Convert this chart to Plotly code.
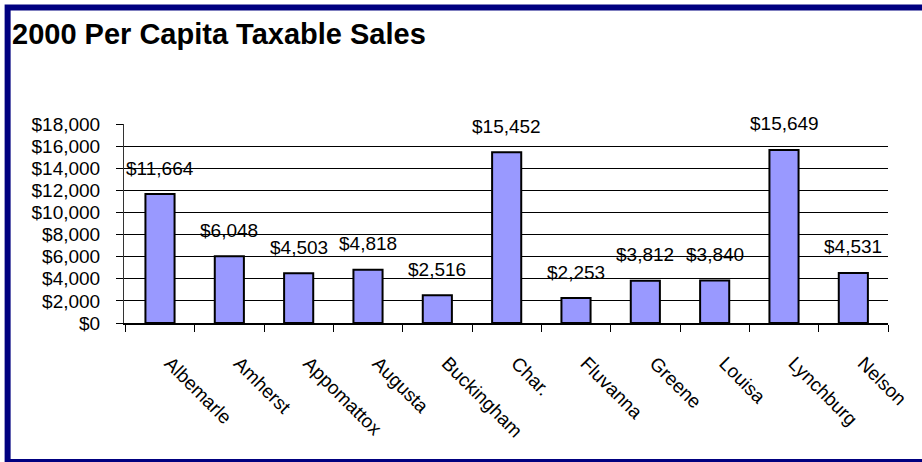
import plotly.graph_objects as go

# 2000 per-capita taxable sales by locality
localities = ["Albemarle", "Amherst", "Appomattox", "Augusta", "Buckingham",
              "Char.", "Fluvanna", "Greene", "Louisa", "Lynchburg", "Nelson"]
sales = [11664, 6048, 4503, 4818, 2516, 15452, 2253, 3812, 3840, 15649, 4531]

W, H = 922, 462
ML, MR, MT, MB = 124, 30, 124, 139
PW, PH = W - ML - MR, H - MT - MB
FONT = "Liberation Sans, Arial, sans-serif"
TXT = 19


def px_to_paper_x(px):
    return (px - ML) / PW


def px_to_paper_y(py):
    return (H - MB - py) / PH


fig = go.Figure()
fig.add_trace(go.Bar(
    x=localities,
    y=sales,
    marker=dict(color="#9999FF", line=dict(color="#000000", width=2)),
    hoverinfo="x+y",
))

# value labels floating above each bar
for name, val in zip(localities, sales):
    fig.add_annotation(
        x=name, y=val, text=f"${val:,}", showarrow=False,
        yanchor="middle", yshift=26,
        font=dict(family=FONT, size=TXT, color="#000000"),
    )

# navy frame around the chart (right edge runs past the page)
fig.add_shape(
    type="rect", xref="paper", yref="paper",
    x0=px_to_paper_x(7), x1=px_to_paper_x(940),
    y0=px_to_paper_y(462), y1=px_to_paper_y(7.5),
    line=dict(color="#000080", width=6), fillcolor="rgba(0,0,0,0)",
    layer="below",
)

fig.update_layout(
    width=W, height=H,
    margin=dict(l=ML, r=MR, t=MT, b=MB),
    paper_bgcolor="#FFFFFF",
    plot_bgcolor="#FFFFFF",
    bargap=0.58,
    showlegend=False,
    font=dict(family=FONT, size=TXT, color="#000000"),
    title=dict(
        text="<b>2000 Per Capita Taxable Sales</b>",
        x=12 / W, xanchor="left", y=1 - 34 / H, yanchor="middle",
        font=dict(family=FONT, size=29, color="#000000"),
    ),
    xaxis=dict(
        type="category",
        tickangle=45,
        ticks="outside", tickson="boundaries", ticklen=7, tickcolor="#000000",
        showline=True, linecolor="#000000", linewidth=1.5,
        showgrid=False,
        ticklabelstandoff=20,
        ticklabelshift=10,
        tickfont=dict(family=FONT, size=TXT, color="#000000"),
    ),
    yaxis=dict(
        range=[0, 18000], dtick=2000, tickprefix="$", tickformat=",",
        ticks="outside", ticklen=7, tickcolor="#000000",
        showline=True, linecolor="#333333", linewidth=1,
        showgrid=True, gridcolor="#000000", gridwidth=1,
        zeroline=False,
        ticklabelstandoff=12,
        tickfont=dict(family=FONT, size=TXT, color="#000000"),
    ),
)

fig.write_html("out.html")
